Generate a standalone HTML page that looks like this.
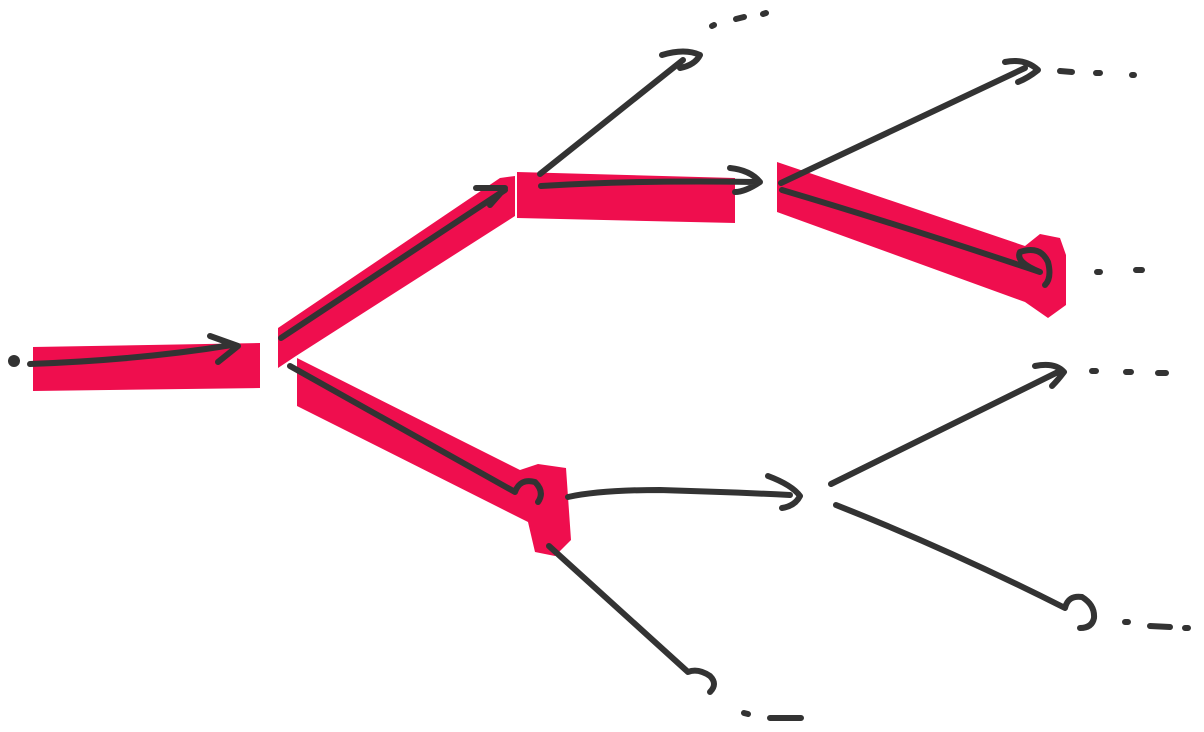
<!DOCTYPE html>
<html><head><meta charset="utf-8"><style>
html,body{margin:0;padding:0;background:#fff;width:1204px;height:732px;overflow:hidden}
svg{display:block}
.s{fill:none;stroke:#333;stroke-width:6;stroke-linecap:round;stroke-linejoin:round}
.h{fill:#ef0e4e}
</style></head><body>
<svg width="1204" height="732" viewBox="0 0 1204 732">
<g>
<polygon class="h" points="33,347 260,343 260,388 33,391"/>
<polygon class="h" points="278,328 500,178 515,176 515,216 296,356 278,368"/>
<polygon class="h" points="517,172 735,178 735,223 517,218"/>
<polygon class="h" points="777,162 1025,246 1040,234 1060,238 1066,255 1066,305 1048,318 1025,302 777,212"/>
<polygon class="h" points="297,358 520,470 538,464 566,468 571,540 555,556 535,552 528,522 297,406"/>
</g>
<g>
<circle cx="14" cy="361" r="6" fill="#333"/>
<path class="s" d="M30,364 Q140,360 232,345 M210,336 L238,346 L218,362"/>
<path class="s" d="M281,338 L505,190 M476,188 L505,188 L490,205"/>
<path class="s" d="M290,366 L515,492 Q520,478 535,482 Q545,492 538,502"/>
<path class="s" d="M541,186 Q640,180 755,182 M730,168 Q750,170 760,182 Q745,192 735,192"/>
<path class="s" d="M540,174 L683,60 M662,55 Q685,48 700,55 Q695,65 680,68"/>
<path class="s" d="M781,183 L1025,68 M1005,62 Q1025,58 1038,70 Q1028,78 1018,82"/>
<path class="s" d="M782,190 Q900,225 1040,272 Q1015,262 1020,252 Q1040,245 1048,262 Q1052,278 1045,285"/>
<path class="s" d="M568,497 Q600,490 660,490 Q730,492 790,495 M768,476 Q792,485 800,496 Q795,506 782,508"/>
<path class="s" d="M831,484 L1058,372 M1035,366 Q1055,362 1064,372 Q1058,380 1052,386"/>
<path class="s" d="M836,505 Q950,550 1065,608 Q1068,595 1082,597 Q1095,605 1094,618 Q1092,628 1080,628"/>
<path class="s" d="M549,546 Q620,610 688,672 Q698,668 710,676 Q718,684 710,692"/>
</g>
<g>
<path class="s" d="M712,26 L714,25 M736,19 L744,17 M763,14 L766,13"/>
<path class="s" d="M1060,71 L1072,72 M1096,73 L1100,73 M1132,75 L1134,75"/>
<path class="s" d="M1097,272 L1100,272 M1136,270 L1142,270"/>
<path class="s" d="M1092,371 L1096,371 M1126,372 L1131,372 M1158,373 L1166,373"/>
<path class="s" d="M1125,622 L1128,622 M1150,626 L1170,627 M1185,628 L1188,628"/>
<path class="s" d="M744,713 L748,714 M770,718 L801,718"/>
</g>
</svg>
</body></html>
